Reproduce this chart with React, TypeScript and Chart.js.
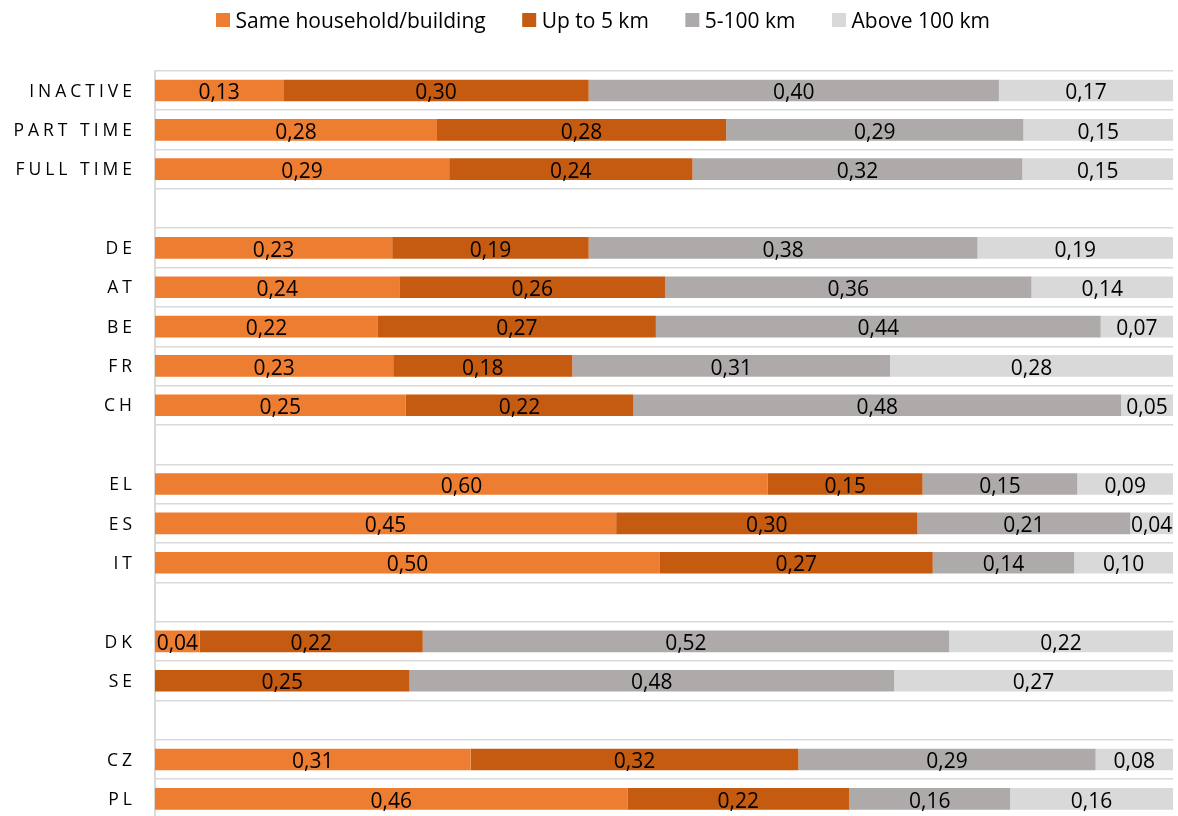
import React, { useEffect, useRef } from 'react';
import { Chart, registerables } from 'chart.js';

Chart.register(...registerables);

const categories = ['INACTIVE', 'PART TIME', 'FULL TIME', '', 'DE', 'AT', 'BE', 'FR', 'CH', '', 'EL', 'ES', 'IT', '', 'DK', 'SE', '', 'CZ', 'PL'];
const seriesNames = ['Same household/building', 'Up to 5 km', '5-100 km', 'Above 100 km'];
const sameHousehold = [0.126, 0.277, 0.289, null, 0.233, 0.240, 0.219, 0.234, 0.246, null, 0.602, 0.453, 0.496, null, 0.044, 0, null, 0.310, 0.464];
const upTo5km = [0.300, 0.284, 0.239, null, 0.193, 0.261, 0.273, 0.176, 0.224, null, 0.152, 0.296, 0.268, null, 0.219, 0.250, null, 0.322, 0.218];
const km5to100 = [0.403, 0.292, 0.324, null, 0.382, 0.360, 0.437, 0.312, 0.479, null, 0.152, 0.209, 0.139, null, 0.517, 0.476, null, 0.292, 0.158];
const above100km = [0.171, 0.147, 0.148, null, 0.192, 0.139, 0.071, 0.278, 0.051, null, 0.094, 0.042, 0.097, null, 0.220, 0.274, null, 0.076, 0.160];
const colors = ['#ED7D31', '#C55A11', '#AEAAAA', '#D9D9D9'];

const FONT = '"Open Sans", "Noto Sans", sans-serif';

const customPlugin = {
  id: 'customDraw',
  afterDatasetsDraw(chart: any) {
    const ctx = chart.ctx as CanvasRenderingContext2D;
    ctx.save();
    ctx.font = `21px ${FONT}`;
    ctx.fillStyle = '#000';
    ctx.textAlign = 'center';
    ctx.textBaseline = 'alphabetic';
    chart.data.datasets.forEach((ds: any, di: number) => {
      const meta = chart.getDatasetMeta(di);
      meta.data.forEach((el: any, i: number) => {
        const v = ds.data[i];
        if (v == null || v <= 0) return;
        const p = el.getProps(['x', 'y', 'base'], true);
        ctx.fillText(v.toFixed(2).replace('.', ','), (p.x + p.base) / 2, p.y + 8.7);
      });
    });
    ctx.restore();
  },
  afterDraw(chart: any) {
    const ctx = chart.ctx as any;
    const yScale = chart.scales.y;
    ctx.save();
    // category labels, letter-spaced
    const ls = 4;
    ctx.font = `17.5px ${FONT}`;
    ctx.letterSpacing = `${ls}px`;
    ctx.fillStyle = '#000';
    ctx.textBaseline = 'alphabetic';
    ctx.textAlign = 'left';
    categories.forEach((c, i) => {
      if (!c) return;
      const w = ctx.measureText(c).width - ls;
      ctx.fillText(c, 132 - w, yScale.getPixelForValue(i) + 6.2);
    });
    ctx.letterSpacing = '0px';
    // legend
    ctx.font = `21px ${FONT}`;
    const widths = seriesNames.map((n) => ctx.measureText(n).width);
    const box = 14, gap = 5.5, sep = 36.5;
    const total = widths.reduce((a, w) => a + box + gap + w, 0) + sep * (widths.length - 1);
    let x = 603 - total / 2;
    seriesNames.forEach((n, i) => {
      ctx.fillStyle = colors[i];
      ctx.fillRect(x, 13, box, box);
      ctx.fillStyle = '#000';
      ctx.fillText(n, x + box + gap, 27.5);
      x += box + gap + widths[i] + sep;
    });
    ctx.restore();
  },
};

export default function App() {
  const ref = useRef<HTMLCanvasElement>(null);
  useEffect(() => {
    let chart: Chart | null = null;
    let cancelled = false;
    const make = () => {
      if (cancelled || !ref.current) return;
      const seriesData = [sameHousehold, upTo5km, km5to100, above100km];
      chart = new Chart(ref.current, {
        type: 'bar',
        data: {
          labels: categories,
          datasets: seriesNames.map((name, i) => ({
            label: name,
            data: seriesData[i] as any,
            backgroundColor: colors[i],
            borderWidth: 0,
            barPercentage: 0.55,
            categoryPercentage: 1,
          })),
        },
        options: {
          indexAxis: 'y',
          responsive: false,
          animation: false,
          events: [],
          layout: { padding: { left: 0, right: 5, top: 70.8, bottom: 3.5 } },
          plugins: { legend: { display: false }, tooltip: { enabled: false } },
          scales: {
            x: { stacked: true, min: 0, max: 1, display: false },
            y: {
              stacked: true,
              ticks: { display: false },
              grid: { color: '#D9D9D9', lineWidth: 1.5, drawTicks: false },
              border: { color: '#D9D9D9', width: 2 },
              afterFit: (scale: any) => { scale.width = 155; },
            },
          },
        },
        plugins: [customPlugin],
      });
    };
    const fonts = (document as any).fonts;
    if (fonts && fonts.load) {
      Promise.all([fonts.load('21px "Open Sans"'), fonts.load('17.5px "Open Sans"')]).then(make, make);
    } else make();
    return () => {
      cancelled = true;
      if (chart) chart.destroy();
    };
  }, []);
  return (
    <div style={{ position: 'fixed', left: 0, top: 0, width: 1178, height: 816, overflow: 'hidden', background: '#fff' }}>
      <canvas ref={ref} width={1178} height={822} style={{ width: 1178, height: 822, display: 'block' }} />
    </div>
  );
}
